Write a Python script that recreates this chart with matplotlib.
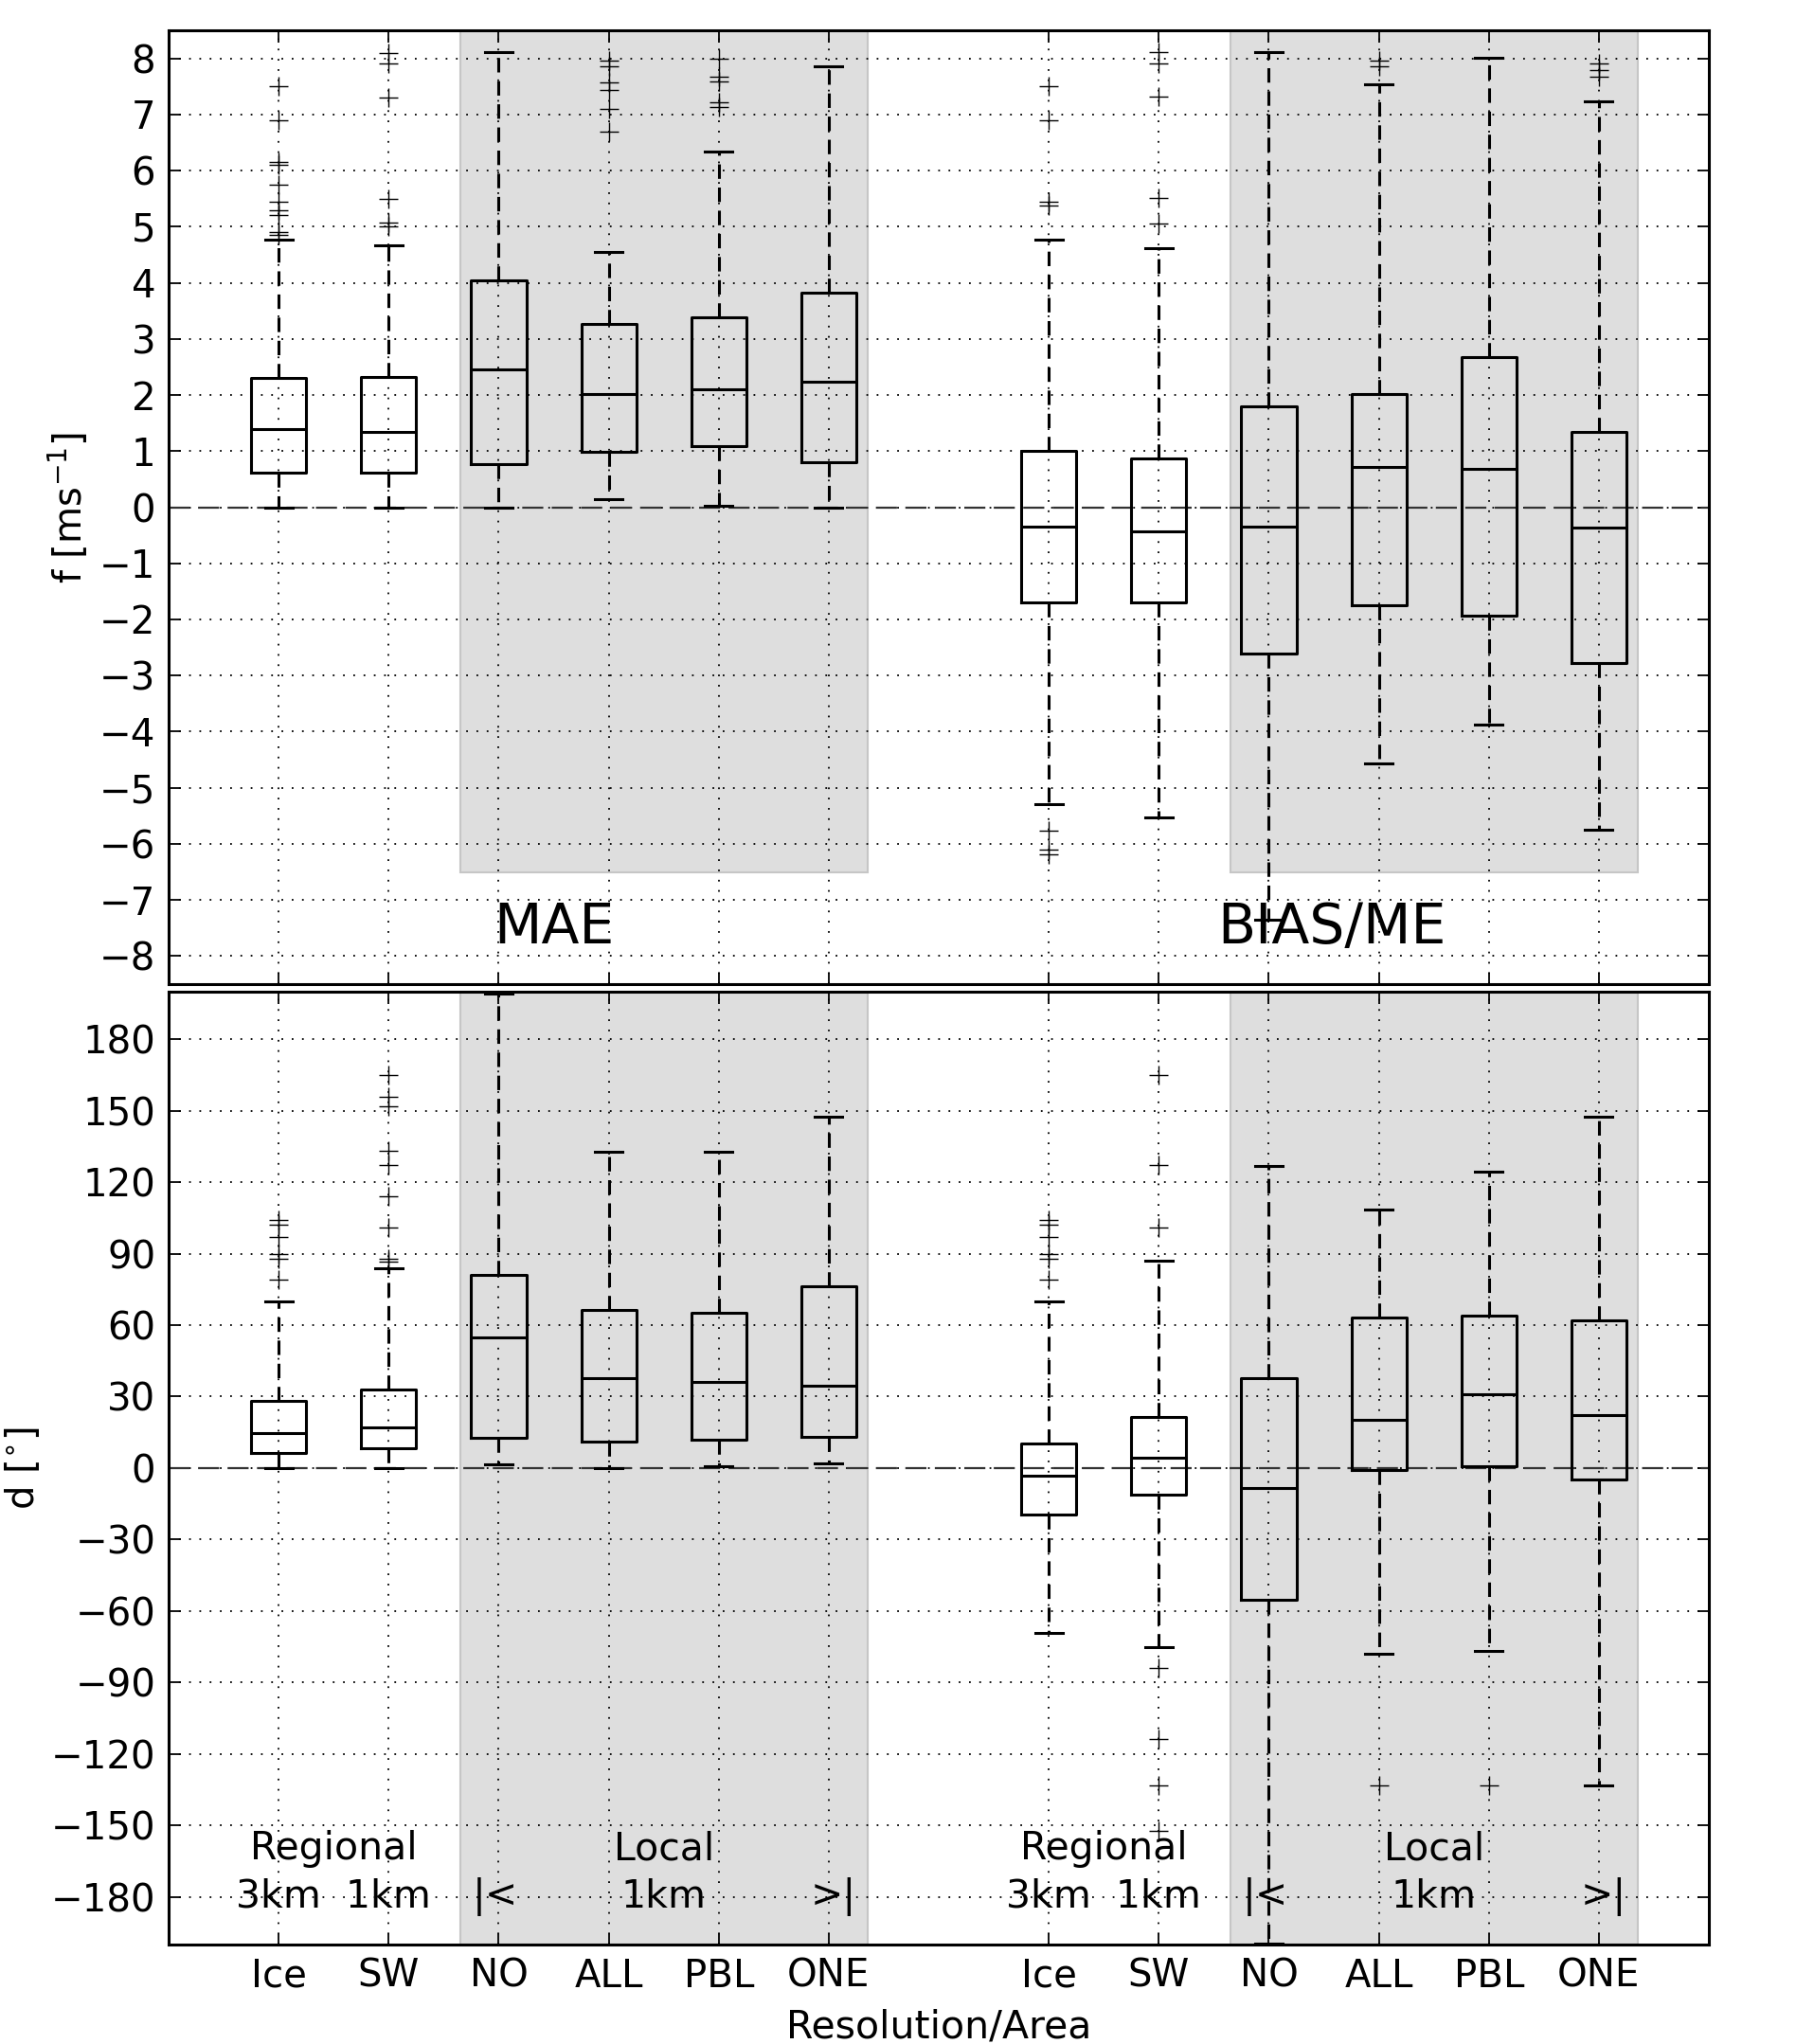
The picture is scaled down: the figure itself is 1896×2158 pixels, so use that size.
import matplotlib
matplotlib.use('Agg')
import matplotlib.pyplot as plt

# box positions and names
positions = [1, 2, 3, 4, 5, 6, 8, 9, 10, 11, 12, 13]
labels = ['Ice', 'SW', 'NO', 'ALL', 'PBL', 'ONE', 'Ice', 'SW', 'NO', 'ALL', 'PBL', 'ONE']

# wind speed f [m/s]: MAE (first 6) then BIAS/ME (last 6)
f_med = [1.40, 1.35, 2.45, 2.01, 2.10, 2.24, -0.34, -0.43, -0.34, 0.72, 0.68, -0.37]
f_q1 = [0.62, 0.62, 0.76, 0.98, 1.09, 0.81, -1.70, -1.70, -2.60, -1.74, -1.93, -2.77]
f_q3 = [2.30, 2.32, 4.05, 3.27, 3.38, 3.83, 1.01, 0.87, 1.79, 2.01, 2.68, 1.35]
f_lo = [0.0, 0.0, 0.0, 0.14, 0.03, 0.0, -5.29, -5.53, -7.35, -4.56, -3.88, -5.75]
f_hi = [4.77, 4.66, 8.11, 4.55, 6.33, 7.85, 4.77, 4.62, 8.11, 7.53, 8.01, 7.24]
f_fliers = [
    [7.5, 6.9, 6.15, 6.1, 5.75, 5.45, 5.3, 5.2, 4.9, 4.85],
    [8.1, 7.9, 7.3, 5.5, 5.08, 5.0],
    [],
    [7.96, 7.85, 7.57, 7.43, 7.09, 6.70],
    [8.0, 7.68, 7.59, 7.21, 7.14],
    [],
    [7.51, 6.89, 5.45, 5.37, -5.76, -6.10, -6.18],
    [8.11, 7.91, 7.31, 5.51, 5.06],
    [],
    [7.96, 7.85],
    [],
    [7.91, 7.79, 7.68],
]

# wind direction d [deg]
d_med = [14.8, 17.0, 54.8, 37.8, 36.3, 34.4, -3.1, 4.3, -8.5, 20.4, 30.9, 22.1]
d_q1 = [6.5, 8.2, 12.8, 11.1, 11.9, 13.1, -19.6, -11.1, -55.4, -0.85, 0.6, -4.8]
d_q3 = [28.1, 32.9, 80.9, 66.2, 65.3, 76.4, 10.2, 21.6, 37.8, 63.0, 63.9, 61.9]
d_lo = [0.0, 0.0, 1.4, 0.0, 0.6, 2.0, -69.3, -75.2, -199.6, -77.8, -76.7, -133.4]
d_hi = [70.1, 83.8, 199.0, 132.9, 132.9, 147.6, 70.1, 87.2, 126.9, 108.5, 124.4, 147.6]
d_fliers = [
    [104, 102, 97, 90, 88, 79],
    [165, 156, 152, 133, 127, 114, 101, 88, 86.5],
    [],
    [],
    [],
    [],
    [104, 102, 97, 90, 88, 79],
    [165, 127, 101, -84, -113.6, -133.4, -152.5],
    [],
    [-133.4],
    [-133.4],
    [],
]

plt.rcParams['font.family'] = 'DejaVu Sans'
plt.rcParams['font.size'] = 29.5
plt.rcParams['mathtext.default'] = 'regular'


def make_stats(med, q1, q3, lo, hi, fl):
    out = []
    for i in range(len(med)):
        out.append(dict(med=med[i], q1=q1[i], q3=q3[i], whislo=lo[i],
                        whishi=hi[i], fliers=fl[i]))
    return out


def draw_panel(ax, stats, ylim, shade_top):
    lw = 2.2
    ax.bxp(stats, positions=positions, widths=0.5, showfliers=True,
           boxprops=dict(color='k', lw=lw),
           medianprops=dict(color='k', lw=lw),
           whiskerprops=dict(color='k', lw=lw, linestyle=(0, (5, 3))),
           capprops=dict(color='k', lw=lw),
           flierprops=dict(marker='+', markeredgecolor='k', markersize=14,
                           markeredgewidth=1.0, linestyle='none'),
           zorder=3)
    ax.set_ylim(ylim)
    ax.set_xlim(0, 14)
    frac = (shade_top - ylim[0]) / (ylim[1] - ylim[0])
    for a, b in [(positions[2], positions[5]), (positions[8], positions[11])]:
        ax.axvspan(a - 0.35, b + 0.35, ymin=frac, ymax=1.0, facecolor='#dedede',
                   edgecolor='#c6c6c6', lw=1.5, zorder=0)
    ax.axhline(0, color='#333333', lw=1.6, linestyle=(0, (10, 4)), zorder=2)
    ax.grid(True, color='k', linestyle=(0, (1, 5)), lw=1.3, zorder=1)
    ax.set_axisbelow(True)
    ax.set_xticks(positions)
    ax.tick_params(direction='in', length=9, width=1.3, top=True, right=True,
                   labelsize=29, pad=10)
    for s in ax.spines.values():
        s.set_linewidth(2.2)


fig = plt.figure(figsize=(18.96, 21.58), dpi=100)
ax1 = fig.add_axes([0.0939, 0.5185, 0.8576, 0.4667])
ax2 = fig.add_axes([0.0939, 0.0487, 0.8576, 0.4662])

draw_panel(ax1, make_stats(f_med, f_q1, f_q3, f_lo, f_hi, f_fliers), (-8.5, 8.5), -6.5)
ax1.set_yticks(range(-8, 9))
ax1.set_xticklabels([])
ax1.set_ylabel('f [ms$^{-1}$]', fontsize=29, labelpad=6)
ax1.text(3.5, -7.5, 'MAE', fontsize=42, ha='center', va='center', zorder=5)
ax1.text(10.57, -7.5, 'BIAS/ME', fontsize=42, ha='center', va='center', zorder=5)

draw_panel(ax2, make_stats(d_med, d_q1, d_q3, d_lo, d_hi, d_fliers), (-200, 200), -200)
ax2.set_yticks(range(-180, 181, 30))
ax2.set_xticklabels(labels)
ax2.set_ylabel('d [$^{\\circ}$]', fontsize=29, labelpad=6)
ax2.set_xlabel('Resolution/Area', fontsize=29.5, labelpad=10)
for off in [0, 7]:
    ax2.text(1.5 + off, -160, 'Regional', ha='center', va='center', zorder=5)
    ax2.text(1.5 + off, -180, '3km  1km', ha='center', va='center', zorder=5)
    ax2.text(4.5 + off, -160, 'Local', ha='center', va='center', zorder=5)
    ax2.text(4.5 + off, -180, '1km', ha='center', va='center', zorder=5)
    ax2.text(2.97 + off, -180, '|<', ha='center', va='center', zorder=5)
    ax2.text(6.04 + off, -180, '>|', ha='center', va='center', zorder=5)

fig.savefig('out.png', dpi=100, facecolor='white')
